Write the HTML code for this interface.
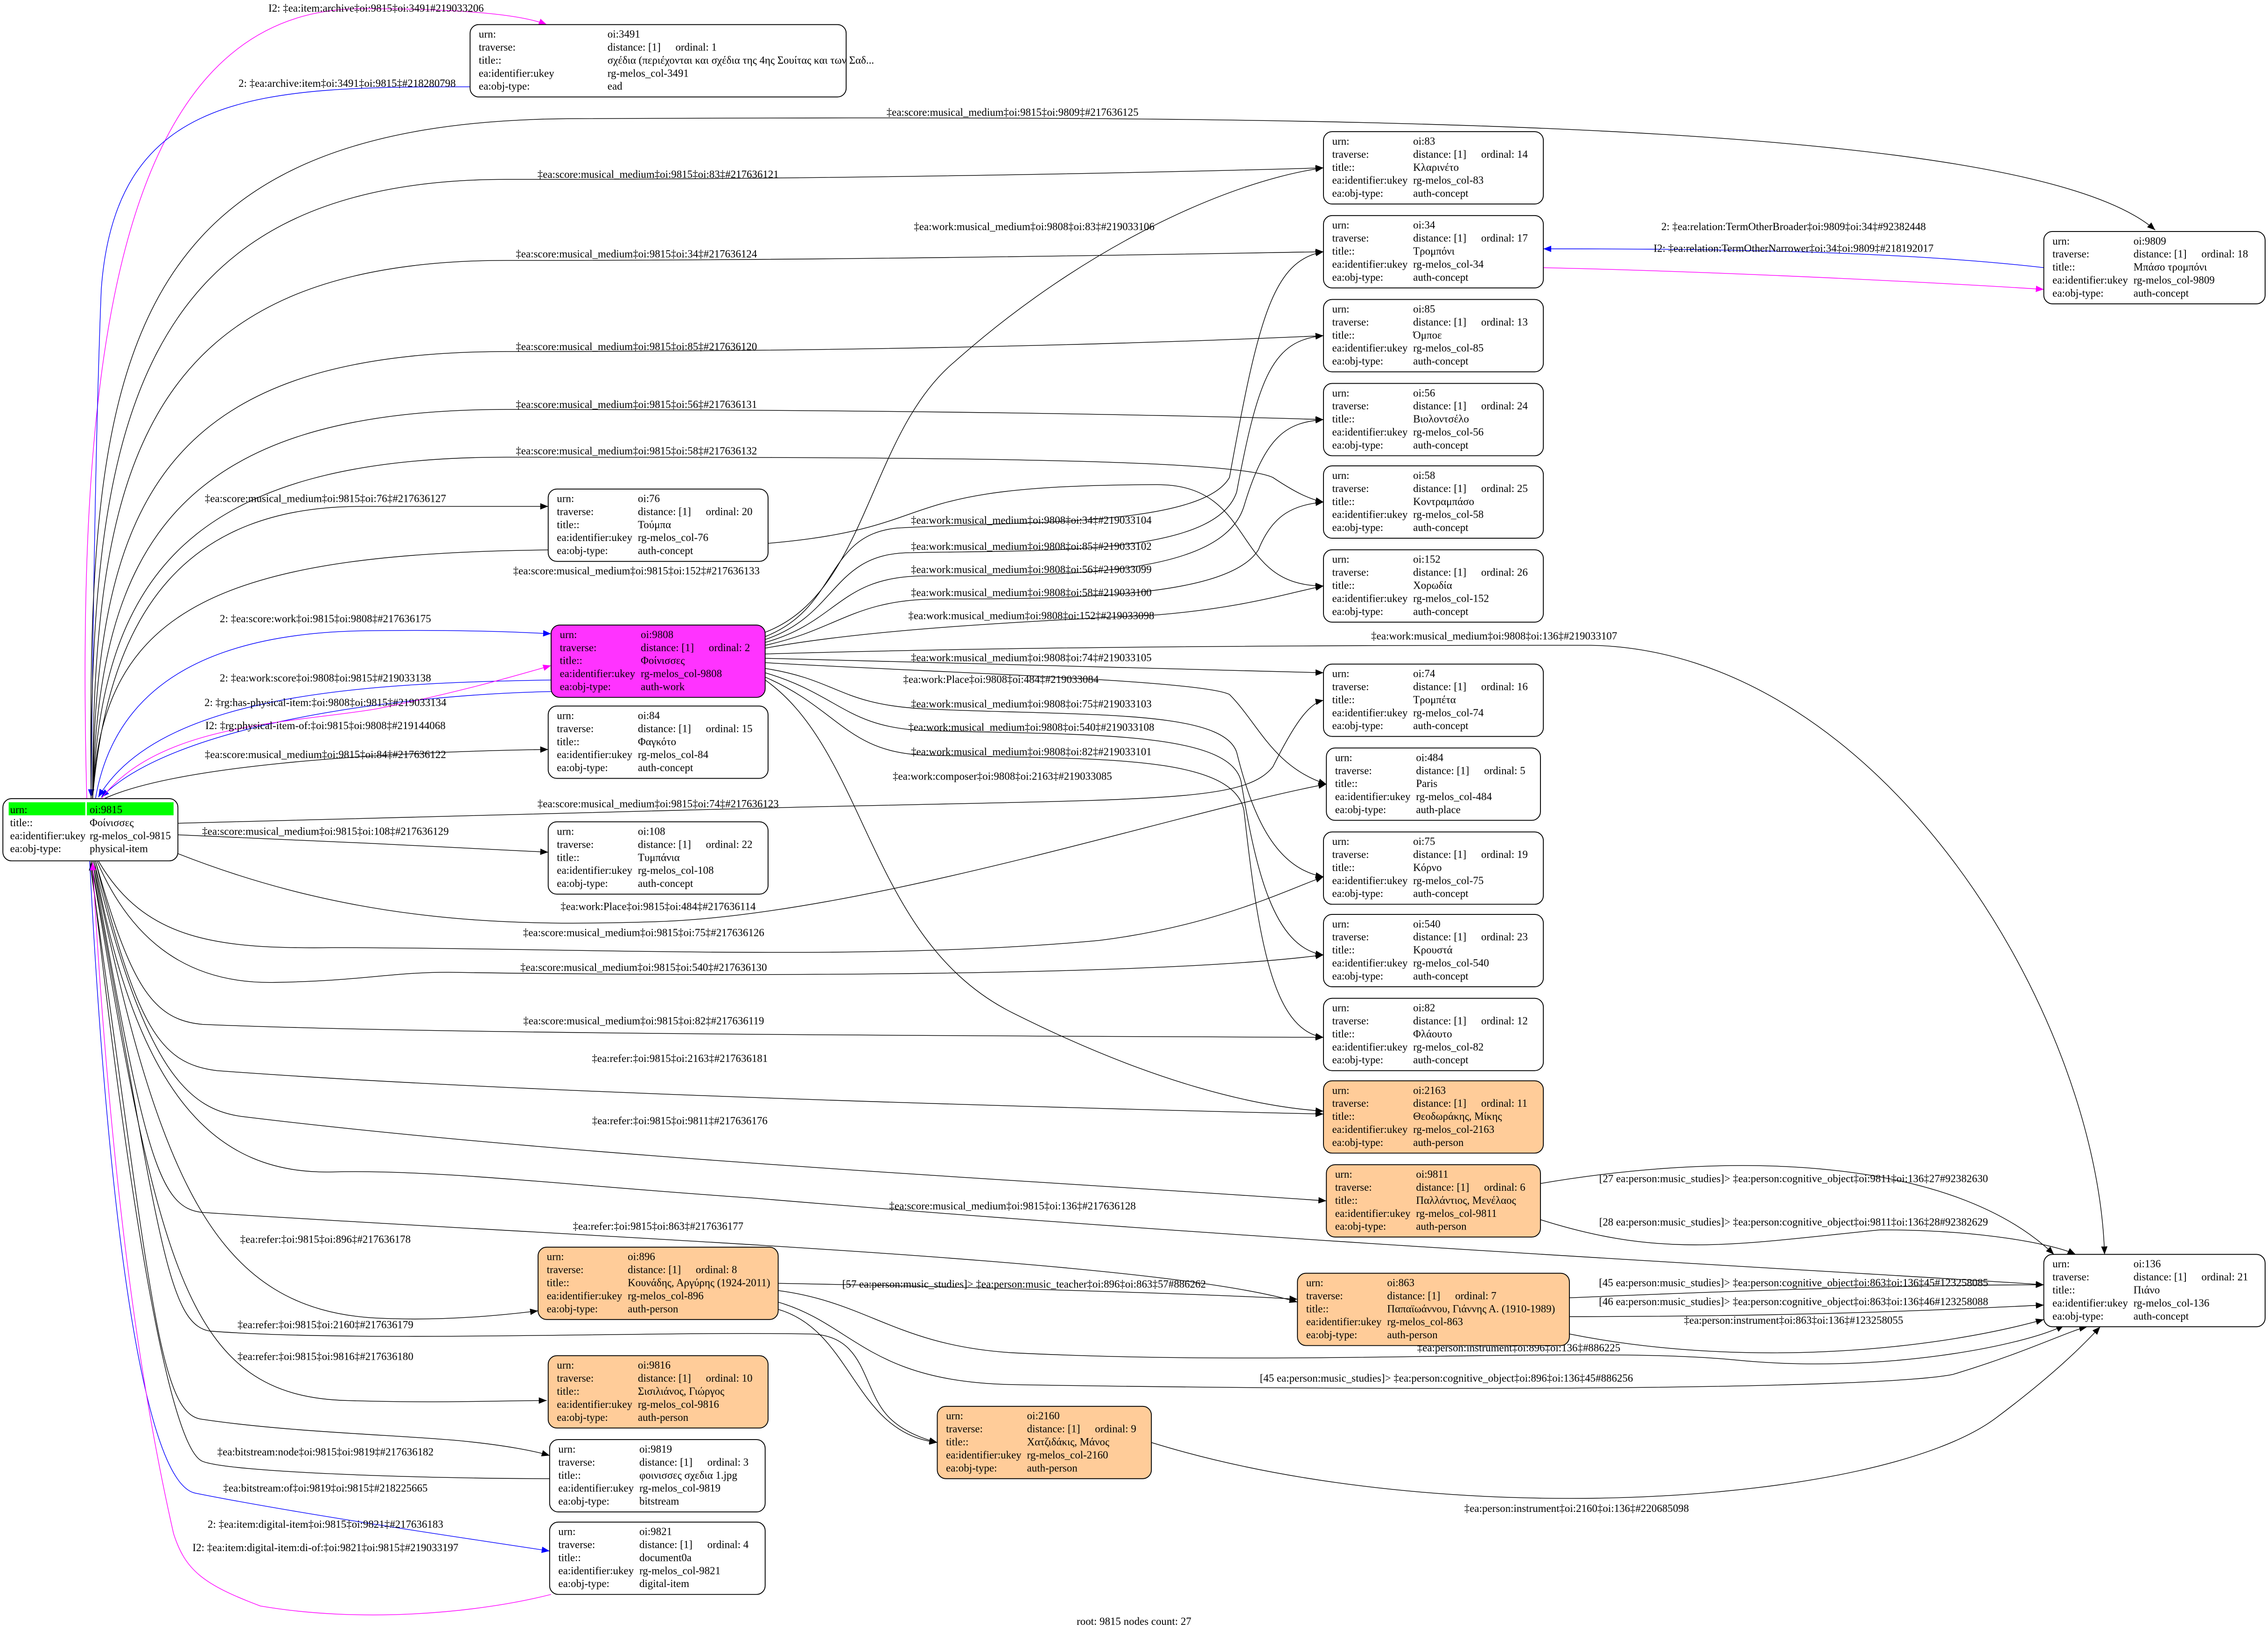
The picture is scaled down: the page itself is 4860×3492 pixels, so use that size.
<!DOCTYPE html>
<html><head><meta charset="utf-8"><style>
html,body{margin:0;padding:0;background:#fff;}
svg{display:block;}
text{font-family:"Liberation Serif","DejaVu Serif",serif;font-size:7.4px;fill:#000;}
.l{text-anchor:middle;}
.e{fill:none;stroke:#000;stroke-width:0.45;}
.b{stroke:#00f;}
.m{stroke:#f0f;}
.n{fill:#fff;stroke:#000;stroke-width:0.6;}
.o{fill:#ffcc99;}
.p{fill:#ff33ff;}
</style></head><body>
<svg width="4860" height="3492" viewBox="0 0 1568 1126.6" preserveAspectRatio="none" xmlns="http://www.w3.org/2000/svg">
<defs>
<marker id="ak" markerUnits="userSpaceOnUse" markerWidth="6" markerHeight="5" refX="5.5" refY="2.2" orient="auto"><path d="M0,0 L5.5,2.2 L0,4.4 z" fill="#000"/></marker>
<marker id="ab" markerUnits="userSpaceOnUse" markerWidth="6" markerHeight="5" refX="5.5" refY="2.2" orient="auto"><path d="M0,0 L5.5,2.2 L0,4.4 z" fill="#00f"/></marker>
<marker id="am" markerUnits="userSpaceOnUse" markerWidth="6" markerHeight="5" refX="5.5" refY="2.2" orient="auto"><path d="M0,0 L5.5,2.2 L0,4.4 z" fill="#f0f"/></marker>
</defs>
<rect width="1568" height="1127" fill="#fff"/>

<!-- edges from root top -->
<path class="e m" marker-end="url(#am)" d="M60,552 C52,250 80,6 250,6 C320,6 360,10 378,17"/>
<path class="e b" marker-end="url(#ab)" d="M325,60 C180,60 80,62 70,200 C66,300 64,450 63,551"/>
<path class="e" marker-end="url(#ak)" d="M63,552 C60,250 80,82 400,82 C900,80 1400,80 1490,159"/>
<path class="e" marker-end="url(#ak)" d="M63,552 C62,300 90,124 350,124 C600,124 850,118 915,116"/>
<path class="e" marker-end="url(#ak)" d="M64,552 C64,320 100,180 350,180 C600,180 850,175 915,174"/>
<path class="e" marker-end="url(#ak)" d="M64,552 C66,350 110,243 350,243 C650,243 850,235 915,232"/>
<path class="e" marker-end="url(#ak)" d="M64,552 C68,380 120,283 350,283 C650,283 850,288 915,290"/>
<path class="e" marker-end="url(#ak)" d="M64,552 C70,400 130,316 350,316 C600,316 850,316 880,330 C895,340 905,345 915,347"/>
<path class="e" marker-end="url(#ak)" d="M64,552 C75,420 130,350 250,350 C320,350 360,350 379,350"/>
<path class="e" marker-end="url(#ak)" d="M64,552 C70,420 150,380 400,380 C700,380 560,335 800,335 C870,335 850,405 915,405"/>
<path class="e b" marker-end="url(#ab)" d="M66,552 C80,470 150,438 250,436 C320,435 360,437 381,438"/>
<path class="e b" marker-end="url(#ab)" d="M381,470 C250,472 110,480 68,551"/>
<path class="e b" marker-end="url(#ab)" d="M381,478 C280,480 120,500 70,551"/>
<path class="e m" marker-end="url(#am)" d="M70,552 C110,500 200,500 260,490 C320,478 360,466 381,460"/>
<path class="e" marker-end="url(#ak)" d="M72,552 C120,530 250,520 379,518"/>
<!-- root right / bottom -->
<path class="e" marker-end="url(#ak)" d="M123,569 C300,565 450,560 548,558 C800,552 860,555 880,530 C895,500 905,486 915,484"/>
<path class="e" marker-end="url(#ak)" d="M123,577 C200,580 300,585 379,589"/>
<path class="e" marker-end="url(#ak)" d="M123,590 C250,640 360,640 455,637 C600,632 820,560 917,542"/>
<path class="e" marker-end="url(#ak)" d="M68,595 C100,650 150,656 230,655 C400,655 600,665 760,650 C840,640 890,615 915,606"/>
<path class="e" marker-end="url(#ak)" d="M67,595 C95,660 140,680 190,679 C250,678 270,672 310,672 C500,675 800,675 915,660"/>
<path class="e" marker-end="url(#ak)" d="M66,595 C90,680 105,705 140,708 C300,715 700,716 915,717"/>
<path class="e" marker-end="url(#ak)" d="M66,595 C95,710 110,735 150,740 C350,755 700,765 915,770"/>
<path class="e" marker-end="url(#ak)" d="M65,595 C100,740 130,768 170,772 C400,800 700,815 917,830"/>
<path class="e" marker-end="url(#ak)" d="M65,595 C95,760 150,812 230,810 C300,808 400,820 520,828 C900,860 1300,880 1413,888"/>
<path class="e" marker-end="url(#ak)" d="M64,595 C100,800 110,835 140,838 C400,855 800,870 897,900"/>
<path class="e" marker-end="url(#ak)" d="M64,595 C110,820 150,905 260,911 C300,913 340,910 372,906"/>
<path class="e" marker-end="url(#ak)" d="M63,595 C110,850 115,915 145,920 C250,928 450,920 560,922 C600,923 595,960 615,980 C625,990 640,995 648,997"/>
<path class="e" marker-end="url(#ak)" d="M63,595 C110,880 130,965 240,968 C300,970 350,968 378,968"/>
<path class="e" marker-end="url(#ak)" d="M62,595 C105,900 110,978 140,981 C200,990 280,992 320,996 C350,999 370,1003 380,1006"/>
<path class="e" marker-end="url(#ak)" d="M380,1022 C300,1022 160,1018 140,1010 C115,1000 85,800 63,596"/>
<path class="e b" marker-end="url(#ab)" d="M62,595 C75,850 100,1025 135,1032 C200,1045 300,1060 380,1072"/>
<path class="e m" marker-end="url(#am)" d="M381,1102 C330,1115 250,1122 180,1110 C140,1095 128,1085 120,1060 C95,950 75,800 64,596"/>
<!-- from 9808 -->
<path class="e" marker-end="url(#ak)" d="M529,437 C600,410 600,300 660,250 C750,170 850,125 915,116"/>
<path class="e" marker-end="url(#ak)" d="M529,440 C580,420 570,370 620,365 C700,360 830,365 850,330 C870,220 880,180 915,174"/>
<path class="e" marker-end="url(#ak)" d="M529,442 C580,425 575,382 630,382 C720,380 840,385 855,340 C870,260 880,235 915,232"/>
<path class="e" marker-end="url(#ak)" d="M529,444 C580,430 580,398 640,398 C740,398 845,398 860,350 C875,300 890,292 915,290"/>
<path class="e" marker-end="url(#ak)" d="M529,446 C580,435 590,414 650,414 C750,414 850,412 870,380 C880,355 895,349 915,347"/>
<path class="e" marker-end="url(#ak)" d="M529,448 C600,435 700,430 800,425 C860,420 890,410 915,405"/>
<path class="e" marker-end="url(#ak)" d="M529,452 C700,447 900,446 1100,446 C1300,450 1450,700 1455,867"/>
<path class="e" marker-end="url(#ak)" d="M529,455 C650,458 800,462 915,465"/>
<path class="e" marker-end="url(#ak)" d="M529,458 C650,465 830,470 850,480 C870,500 880,530 917,542"/>
<path class="e" marker-end="url(#ak)" d="M529,462 C580,470 580,487 640,490 C750,495 845,490 855,520 C865,560 880,600 915,606"/>
<path class="e" marker-end="url(#ak)" d="M529,465 C580,480 585,503 640,505 C750,508 850,505 858,540 C868,600 880,655 915,660"/>
<path class="e" marker-end="url(#ak)" d="M529,468 C580,490 585,520 640,522 C750,525 852,520 860,560 C870,650 880,712 915,717"/>
<path class="e" marker-end="url(#ak)" d="M529,470 C600,520 600,650 700,700 C800,750 870,765 915,768"/>
<!-- right side -->
<path class="e b" marker-end="url(#ab)" d="M1413,185 C1300,172 1150,172 1067,172"/>
<path class="e m" marker-end="url(#am)" d="M1067,185 C1200,188 1350,196 1413,200"/>
<path class="e" marker-end="url(#ak)" d="M1065,818 C1200,795 1350,800 1420,867"/>
<path class="e" marker-end="url(#ak)" d="M1065,843 C1150,870 1200,860 1300,850 C1370,850 1420,860 1435,867"/>
<path class="e" marker-end="url(#ak)" d="M538,887 C700,890 850,895 897,898"/>
<path class="e" marker-end="url(#ak)" d="M1085,897 C1250,890 1350,888 1413,888"/>
<path class="e" marker-end="url(#ak)" d="M1085,910 C1250,910 1350,905 1413,902"/>
<path class="e" marker-end="url(#ak)" d="M1085,922 C1200,945 1330,935 1413,912"/>
<path class="e" marker-end="url(#ak)" d="M538,892 C600,900 620,930 700,935 C900,945 1100,930 1200,940 C1300,950 1400,930 1427,916"/>
<path class="e" marker-end="url(#ak)" d="M538,900 C590,915 600,955 700,957 C1000,962 1300,960 1350,950 C1400,935 1430,920 1443,917"/>
<path class="e" marker-end="url(#ak)" d="M538,905 C590,920 590,990 648,997"/>
<path class="e" marker-end="url(#ak)" d="M796,997 C1000,1060 1300,1040 1380,980 C1420,950 1440,930 1452,917"/>

<!-- edge labels -->
<g>
<text class="l" x="260" y="8">I2: ‡ea:item:archive‡oi:9815‡oi:3491#219033206</text>
<text class="l" x="240" y="60">2: ‡ea:archive:item‡oi:3491‡oi:9815‡#218280798</text>
<text class="l" x="700" y="80">‡ea:score:musical_medium‡oi:9815‡oi:9809‡#217636125</text>
<text class="l" x="455" y="123">‡ea:score:musical_medium‡oi:9815‡oi:83‡#217636121</text>
<text class="l" x="440" y="178">‡ea:score:musical_medium‡oi:9815‡oi:34‡#217636124</text>
<text class="l" x="440" y="242">‡ea:score:musical_medium‡oi:9815‡oi:85‡#217636120</text>
<text class="l" x="440" y="282">‡ea:score:musical_medium‡oi:9815‡oi:56‡#217636131</text>
<text class="l" x="440" y="314">‡ea:score:musical_medium‡oi:9815‡oi:58‡#217636132</text>
<text class="l" x="225" y="347">‡ea:score:musical_medium‡oi:9815‡oi:76‡#217636127</text>
<text class="l" x="440" y="397">‡ea:score:musical_medium‡oi:9815‡oi:152‡#217636133</text>
<text class="l" x="225" y="430">2: ‡ea:score:work‡oi:9815‡oi:9808‡#217636175</text>
<text class="l" x="225" y="471">2: ‡ea:work:score‡oi:9808‡oi:9815‡#219033138</text>
<text class="l" x="225" y="488">2: ‡rg:has-physical-item:‡oi:9808‡oi:9815‡#219033134</text>
<text class="l" x="225" y="504">I2: ‡rg:physical-item-of:‡oi:9815‡oi:9808‡#219144068</text>
<text class="l" x="225" y="524">‡ea:score:musical_medium‡oi:9815‡oi:84‡#217636122</text>
<text class="l" x="455" y="558">‡ea:score:musical_medium‡oi:9815‡oi:74‡#217636123</text>
<text class="l" x="225" y="577">‡ea:score:musical_medium‡oi:9815‡oi:108‡#217636129</text>
<text class="l" x="455" y="629">‡ea:work:Place‡oi:9815‡oi:484‡#217636114</text>
<text class="l" x="445" y="647">‡ea:score:musical_medium‡oi:9815‡oi:75‡#217636126</text>
<text class="l" x="445" y="671">‡ea:score:musical_medium‡oi:9815‡oi:540‡#217636130</text>
<text class="l" x="445" y="708">‡ea:score:musical_medium‡oi:9815‡oi:82‡#217636119</text>
<text class="l" x="470" y="734">‡ea:refer:‡oi:9815‡oi:2163‡#217636181</text>
<text class="l" x="470" y="777">‡ea:refer:‡oi:9815‡oi:9811‡#217636176</text>
<text class="l" x="700" y="836">‡ea:score:musical_medium‡oi:9815‡oi:136‡#217636128</text>
<text class="l" x="455" y="850">‡ea:refer:‡oi:9815‡oi:863‡#217636177</text>
<text class="l" x="225" y="859">‡ea:refer:‡oi:9815‡oi:896‡#217636178</text>
<text class="l" x="225" y="918">‡ea:refer:‡oi:9815‡oi:2160‡#217636179</text>
<text class="l" x="225" y="940">‡ea:refer:‡oi:9815‡oi:9816‡#217636180</text>
<text class="l" x="225" y="1006">‡ea:bitstream:node‡oi:9815‡oi:9819‡#217636182</text>
<text class="l" x="225" y="1031">‡ea:bitstream:of‡oi:9819‡oi:9815‡#218225665</text>
<text class="l" x="225" y="1056">2: ‡ea:item:digital-item‡oi:9815‡oi:9821‡#217636183</text>
<text class="l" x="225" y="1072">I2: ‡ea:item:digital-item:di-of:‡oi:9821‡oi:9815‡#219033197</text>
<text class="l" x="715" y="159">‡ea:work:musical_medium‡oi:9808‡oi:83‡#219033106</text>
<text class="l" x="713" y="362">‡ea:work:musical_medium‡oi:9808‡oi:34‡#219033104</text>
<text class="l" x="713" y="380">‡ea:work:musical_medium‡oi:9808‡oi:85‡#219033102</text>
<text class="l" x="713" y="396">‡ea:work:musical_medium‡oi:9808‡oi:56‡#219033099</text>
<text class="l" x="713" y="412">‡ea:work:musical_medium‡oi:9808‡oi:58‡#219033100</text>
<text class="l" x="713" y="428">‡ea:work:musical_medium‡oi:9808‡oi:152‡#219033098</text>
<text class="l" x="1033" y="442">‡ea:work:musical_medium‡oi:9808‡oi:136‡#219033107</text>
<text class="l" x="713" y="457">‡ea:work:musical_medium‡oi:9808‡oi:74‡#219033105</text>
<text class="l" x="692" y="472">‡ea:work:Place‡oi:9808‡oi:484‡#219033084</text>
<text class="l" x="713" y="489">‡ea:work:musical_medium‡oi:9808‡oi:75‡#219033103</text>
<text class="l" x="713" y="505">‡ea:work:musical_medium‡oi:9808‡oi:540‡#219033108</text>
<text class="l" x="713" y="522">‡ea:work:musical_medium‡oi:9808‡oi:82‡#219033101</text>
<text class="l" x="693" y="539">‡ea:work:composer‡oi:9808‡oi:2163‡#219033085</text>
<text class="l" x="1240" y="159">2: ‡ea:relation:TermOtherBroader‡oi:9809‡oi:34‡#92382448</text>
<text class="l" x="1240" y="174">I2: ‡ea:relation:TermOtherNarrower‡oi:34‡oi:9809‡#218192017</text>
<text class="l" x="1240" y="817">[27 ea:person:music_studies]&gt; ‡ea:person:cognitive_object‡oi:9811‡oi:136‡27#92382630</text>
<text class="l" x="1240" y="847">[28 ea:person:music_studies]&gt; ‡ea:person:cognitive_object‡oi:9811‡oi:136‡28#92382629</text>
<text class="l" x="708" y="890">[57 ea:person:music_studies]&gt; ‡ea:person:music_teacher‡oi:896‡oi:863‡57#886262</text>
<text class="l" x="1240" y="889">[45 ea:person:music_studies]&gt; ‡ea:person:cognitive_object‡oi:863‡oi:136‡45#123258085</text>
<text class="l" x="1240" y="902">[46 ea:person:music_studies]&gt; ‡ea:person:cognitive_object‡oi:863‡oi:136‡46#123258088</text>
<text class="l" x="1240" y="915">‡ea:person:instrument‡oi:863‡oi:136‡#123258055</text>
<text class="l" x="1050" y="934">‡ea:person:instrument‡oi:896‡oi:136‡#886225</text>
<text class="l" x="1000" y="955">[45 ea:person:music_studies]&gt; ‡ea:person:cognitive_object‡oi:896‡oi:136‡45#886256</text>
<text class="l" x="1090" y="1045">‡ea:person:instrument‡oi:2160‡oi:136‡#220685098</text>
<text class="l" x="784" y="1123">root: 9815 nodes count: 27</text>
</g>

<!-- root node -->
<g transform="translate(2,552)">
<rect class="n" width="121" height="43" rx="6"/>
<rect x="4" y="2.5" width="53" height="9" fill="#00ff00"/>
<rect x="58" y="2.5" width="60" height="9" fill="#00ff00"/>
<text x="5" y="10">urn:</text><text x="60" y="10">oi:9815</text>
<text x="5" y="19">title::</text><text x="60" y="19">Φοίνισσες</text>
<text x="5" y="28">ea:identifier:ukey</text><text x="60" y="28">rg-melos_col-9815</text>
<text x="5" y="37">ea:obj-type:</text><text x="60" y="37">physical-item</text>
</g>

<!-- 3491 -->
<g transform="translate(325,17)">
<rect class="n" width="260" height="50" rx="6"/>
<text x="6" y="9">urn:</text><text x="95" y="9">oi:3491</text>
<text x="6" y="18">traverse:</text><text x="95" y="18">distance: [1]</text><text x="142" y="18">ordinal: 1</text>
<text x="6" y="27">title::</text><text x="95" y="27">σχέδια (περιέχονται και σχέδια της 4ης Σουίτας και των Σαδ...</text>
<text x="6" y="36">ea:identifier:ukey</text><text x="95" y="36">rg-melos_col-3491</text>
<text x="6" y="45">ea:obj-type:</text><text x="95" y="45">ead</text>
</g>

<g transform="translate(915,91)"><rect class="n" width="152" height="50" rx="6"/>
<text x="6" y="9">urn:</text><text x="62" y="9">oi:83</text><text x="6" y="18">traverse:</text><text x="62" y="18">distance: [1]</text><text x="109" y="18">ordinal: 14</text><text x="6" y="27">title::</text><text x="62" y="27">Κλαρινέτο</text><text x="6" y="36">ea:identifier:ukey</text><text x="62" y="36">rg-melos_col-83</text><text x="6" y="45">ea:obj-type:</text><text x="62" y="45">auth-concept</text></g>

<g transform="translate(915,149)"><rect class="n" width="152" height="50" rx="6"/>
<text x="6" y="9">urn:</text><text x="62" y="9">oi:34</text><text x="6" y="18">traverse:</text><text x="62" y="18">distance: [1]</text><text x="109" y="18">ordinal: 17</text><text x="6" y="27">title::</text><text x="62" y="27">Τρομπόνι</text><text x="6" y="36">ea:identifier:ukey</text><text x="62" y="36">rg-melos_col-34</text><text x="6" y="45">ea:obj-type:</text><text x="62" y="45">auth-concept</text></g>

<g transform="translate(1413,160)"><rect class="n" width="153" height="50" rx="6"/>
<text x="6" y="9">urn:</text><text x="62" y="9">oi:9809</text><text x="6" y="18">traverse:</text><text x="62" y="18">distance: [1]</text><text x="109" y="18">ordinal: 18</text><text x="6" y="27">title::</text><text x="62" y="27">Μπάσο τρομπόνι</text><text x="6" y="36">ea:identifier:ukey</text><text x="62" y="36">rg-melos_col-9809</text><text x="6" y="45">ea:obj-type:</text><text x="62" y="45">auth-concept</text></g>

<g transform="translate(915,207)"><rect class="n" width="152" height="50" rx="6"/>
<text x="6" y="9">urn:</text><text x="62" y="9">oi:85</text><text x="6" y="18">traverse:</text><text x="62" y="18">distance: [1]</text><text x="109" y="18">ordinal: 13</text><text x="6" y="27">title::</text><text x="62" y="27">Όμποε</text><text x="6" y="36">ea:identifier:ukey</text><text x="62" y="36">rg-melos_col-85</text><text x="6" y="45">ea:obj-type:</text><text x="62" y="45">auth-concept</text></g>

<g transform="translate(915,265)"><rect class="n" width="152" height="50" rx="6"/>
<text x="6" y="9">urn:</text><text x="62" y="9">oi:56</text><text x="6" y="18">traverse:</text><text x="62" y="18">distance: [1]</text><text x="109" y="18">ordinal: 24</text><text x="6" y="27">title::</text><text x="62" y="27">Βιολοντσέλο</text><text x="6" y="36">ea:identifier:ukey</text><text x="62" y="36">rg-melos_col-56</text><text x="6" y="45">ea:obj-type:</text><text x="62" y="45">auth-concept</text></g>

<g transform="translate(915,322)"><rect class="n" width="152" height="50" rx="6"/>
<text x="6" y="9">urn:</text><text x="62" y="9">oi:58</text><text x="6" y="18">traverse:</text><text x="62" y="18">distance: [1]</text><text x="109" y="18">ordinal: 25</text><text x="6" y="27">title::</text><text x="62" y="27">Κοντραμπάσο</text><text x="6" y="36">ea:identifier:ukey</text><text x="62" y="36">rg-melos_col-58</text><text x="6" y="45">ea:obj-type:</text><text x="62" y="45">auth-concept</text></g>

<g transform="translate(379,338)"><rect class="n" width="152" height="50" rx="6"/>
<text x="6" y="9">urn:</text><text x="62" y="9">oi:76</text><text x="6" y="18">traverse:</text><text x="62" y="18">distance: [1]</text><text x="109" y="18">ordinal: 20</text><text x="6" y="27">title::</text><text x="62" y="27">Τούμπα</text><text x="6" y="36">ea:identifier:ukey</text><text x="62" y="36">rg-melos_col-76</text><text x="6" y="45">ea:obj-type:</text><text x="62" y="45">auth-concept</text></g>

<g transform="translate(915,380)"><rect class="n" width="152" height="50" rx="6"/>
<text x="6" y="9">urn:</text><text x="62" y="9">oi:152</text><text x="6" y="18">traverse:</text><text x="62" y="18">distance: [1]</text><text x="109" y="18">ordinal: 26</text><text x="6" y="27">title::</text><text x="62" y="27">Χορωδία</text><text x="6" y="36">ea:identifier:ukey</text><text x="62" y="36">rg-melos_col-152</text><text x="6" y="45">ea:obj-type:</text><text x="62" y="45">auth-concept</text></g>

<g transform="translate(381,432)"><rect class="n p" width="148" height="50" rx="6"/>
<text x="6" y="9">urn:</text><text x="62" y="9">oi:9808</text><text x="6" y="18">traverse:</text><text x="62" y="18">distance: [1]</text><text x="109" y="18">ordinal: 2</text><text x="6" y="27">title::</text><text x="62" y="27">Φοίνισσες</text><text x="6" y="36">ea:identifier:ukey</text><text x="62" y="36">rg-melos_col-9808</text><text x="6" y="45">ea:obj-type:</text><text x="62" y="45">auth-work</text></g>

<g transform="translate(915,459)"><rect class="n" width="152" height="50" rx="6"/>
<text x="6" y="9">urn:</text><text x="62" y="9">oi:74</text><text x="6" y="18">traverse:</text><text x="62" y="18">distance: [1]</text><text x="109" y="18">ordinal: 16</text><text x="6" y="27">title::</text><text x="62" y="27">Τρομπέτα</text><text x="6" y="36">ea:identifier:ukey</text><text x="62" y="36">rg-melos_col-74</text><text x="6" y="45">ea:obj-type:</text><text x="62" y="45">auth-concept</text></g>

<g transform="translate(379,488)"><rect class="n" width="152" height="50" rx="6"/>
<text x="6" y="9">urn:</text><text x="62" y="9">oi:84</text><text x="6" y="18">traverse:</text><text x="62" y="18">distance: [1]</text><text x="109" y="18">ordinal: 15</text><text x="6" y="27">title::</text><text x="62" y="27">Φαγκότο</text><text x="6" y="36">ea:identifier:ukey</text><text x="62" y="36">rg-melos_col-84</text><text x="6" y="45">ea:obj-type:</text><text x="62" y="45">auth-concept</text></g>

<g transform="translate(917,517)"><rect class="n" width="148" height="50" rx="6"/>
<text x="6" y="9">urn:</text><text x="62" y="9">oi:484</text><text x="6" y="18">traverse:</text><text x="62" y="18">distance: [1]</text><text x="109" y="18">ordinal: 5</text><text x="6" y="27">title::</text><text x="62" y="27">Paris</text><text x="6" y="36">ea:identifier:ukey</text><text x="62" y="36">rg-melos_col-484</text><text x="6" y="45">ea:obj-type:</text><text x="62" y="45">auth-place</text></g>

<g transform="translate(379,568)"><rect class="n" width="152" height="50" rx="6"/>
<text x="6" y="9">urn:</text><text x="62" y="9">oi:108</text><text x="6" y="18">traverse:</text><text x="62" y="18">distance: [1]</text><text x="109" y="18">ordinal: 22</text><text x="6" y="27">title::</text><text x="62" y="27">Τυμπάνια</text><text x="6" y="36">ea:identifier:ukey</text><text x="62" y="36">rg-melos_col-108</text><text x="6" y="45">ea:obj-type:</text><text x="62" y="45">auth-concept</text></g>

<g transform="translate(915,575)"><rect class="n" width="152" height="50" rx="6"/>
<text x="6" y="9">urn:</text><text x="62" y="9">oi:75</text><text x="6" y="18">traverse:</text><text x="62" y="18">distance: [1]</text><text x="109" y="18">ordinal: 19</text><text x="6" y="27">title::</text><text x="62" y="27">Κόρνο</text><text x="6" y="36">ea:identifier:ukey</text><text x="62" y="36">rg-melos_col-75</text><text x="6" y="45">ea:obj-type:</text><text x="62" y="45">auth-concept</text></g>

<g transform="translate(915,632)"><rect class="n" width="152" height="50" rx="6"/>
<text x="6" y="9">urn:</text><text x="62" y="9">oi:540</text><text x="6" y="18">traverse:</text><text x="62" y="18">distance: [1]</text><text x="109" y="18">ordinal: 23</text><text x="6" y="27">title::</text><text x="62" y="27">Κρουστά</text><text x="6" y="36">ea:identifier:ukey</text><text x="62" y="36">rg-melos_col-540</text><text x="6" y="45">ea:obj-type:</text><text x="62" y="45">auth-concept</text></g>

<g transform="translate(915,690)"><rect class="n" width="152" height="50" rx="6"/>
<text x="6" y="9">urn:</text><text x="62" y="9">oi:82</text><text x="6" y="18">traverse:</text><text x="62" y="18">distance: [1]</text><text x="109" y="18">ordinal: 12</text><text x="6" y="27">title::</text><text x="62" y="27">Φλάουτο</text><text x="6" y="36">ea:identifier:ukey</text><text x="62" y="36">rg-melos_col-82</text><text x="6" y="45">ea:obj-type:</text><text x="62" y="45">auth-concept</text></g>

<g transform="translate(915,747)"><rect class="n o" width="152" height="50" rx="6"/>
<text x="6" y="9">urn:</text><text x="62" y="9">oi:2163</text><text x="6" y="18">traverse:</text><text x="62" y="18">distance: [1]</text><text x="109" y="18">ordinal: 11</text><text x="6" y="27">title::</text><text x="62" y="27">Θεοδωράκης, Μίκης</text><text x="6" y="36">ea:identifier:ukey</text><text x="62" y="36">rg-melos_col-2163</text><text x="6" y="45">ea:obj-type:</text><text x="62" y="45">auth-person</text></g>

<g transform="translate(917,805)"><rect class="n o" width="148" height="50" rx="6"/>
<text x="6" y="9">urn:</text><text x="62" y="9">oi:9811</text><text x="6" y="18">traverse:</text><text x="62" y="18">distance: [1]</text><text x="109" y="18">ordinal: 6</text><text x="6" y="27">title::</text><text x="62" y="27">Παλλάντιος, Μενέλαος</text><text x="6" y="36">ea:identifier:ukey</text><text x="62" y="36">rg-melos_col-9811</text><text x="6" y="45">ea:obj-type:</text><text x="62" y="45">auth-person</text></g>

<g transform="translate(1413,867)"><rect class="n" width="153" height="50" rx="6"/>
<text x="6" y="9">urn:</text><text x="62" y="9">oi:136</text><text x="6" y="18">traverse:</text><text x="62" y="18">distance: [1]</text><text x="109" y="18">ordinal: 21</text><text x="6" y="27">title::</text><text x="62" y="27">Πιάνο</text><text x="6" y="36">ea:identifier:ukey</text><text x="62" y="36">rg-melos_col-136</text><text x="6" y="45">ea:obj-type:</text><text x="62" y="45">auth-concept</text></g>

<g transform="translate(372,862)"><rect class="n o" width="166" height="50" rx="6"/>
<text x="6" y="9">urn:</text><text x="62" y="9">oi:896</text><text x="6" y="18">traverse:</text><text x="62" y="18">distance: [1]</text><text x="109" y="18">ordinal: 8</text><text x="6" y="27">title::</text><text x="62" y="27">Κουνάδης, Αργύρης (1924-2011)</text><text x="6" y="36">ea:identifier:ukey</text><text x="62" y="36">rg-melos_col-896</text><text x="6" y="45">ea:obj-type:</text><text x="62" y="45">auth-person</text></g>

<g transform="translate(897,880)"><rect class="n o" width="188" height="50" rx="6"/>
<text x="6" y="9">urn:</text><text x="62" y="9">oi:863</text><text x="6" y="18">traverse:</text><text x="62" y="18">distance: [1]</text><text x="109" y="18">ordinal: 7</text><text x="6" y="27">title::</text><text x="62" y="27">Παπαϊωάννου, Γιάννης Α. (1910-1989)</text><text x="6" y="36">ea:identifier:ukey</text><text x="62" y="36">rg-melos_col-863</text><text x="6" y="45">ea:obj-type:</text><text x="62" y="45">auth-person</text></g>

<g transform="translate(379,937)"><rect class="n o" width="152" height="50" rx="6"/>
<text x="6" y="9">urn:</text><text x="62" y="9">oi:9816</text><text x="6" y="18">traverse:</text><text x="62" y="18">distance: [1]</text><text x="109" y="18">ordinal: 10</text><text x="6" y="27">title::</text><text x="62" y="27">Σισιλιάνος, Γιώργος</text><text x="6" y="36">ea:identifier:ukey</text><text x="62" y="36">rg-melos_col-9816</text><text x="6" y="45">ea:obj-type:</text><text x="62" y="45">auth-person</text></g>

<g transform="translate(648,972)"><rect class="n o" width="148" height="50" rx="6"/>
<text x="6" y="9">urn:</text><text x="62" y="9">oi:2160</text><text x="6" y="18">traverse:</text><text x="62" y="18">distance: [1]</text><text x="109" y="18">ordinal: 9</text><text x="6" y="27">title::</text><text x="62" y="27">Χατζιδάκις, Μάνος</text><text x="6" y="36">ea:identifier:ukey</text><text x="62" y="36">rg-melos_col-2160</text><text x="6" y="45">ea:obj-type:</text><text x="62" y="45">auth-person</text></g>

<g transform="translate(380,995)"><rect class="n" width="149" height="50" rx="6"/>
<text x="6" y="9">urn:</text><text x="62" y="9">oi:9819</text><text x="6" y="18">traverse:</text><text x="62" y="18">distance: [1]</text><text x="109" y="18">ordinal: 3</text><text x="6" y="27">title::</text><text x="62" y="27">φοινισσες σχεδια 1.jpg</text><text x="6" y="36">ea:identifier:ukey</text><text x="62" y="36">rg-melos_col-9819</text><text x="6" y="45">ea:obj-type:</text><text x="62" y="45">bitstream</text></g>

<g transform="translate(380,1052)"><rect class="n" width="149" height="50" rx="6"/>
<text x="6" y="9">urn:</text><text x="62" y="9">oi:9821</text><text x="6" y="18">traverse:</text><text x="62" y="18">distance: [1]</text><text x="109" y="18">ordinal: 4</text><text x="6" y="27">title::</text><text x="62" y="27">document0a</text><text x="6" y="36">ea:identifier:ukey</text><text x="62" y="36">rg-melos_col-9821</text><text x="6" y="45">ea:obj-type:</text><text x="62" y="45">digital-item</text></g>
</svg>
</body></html>
